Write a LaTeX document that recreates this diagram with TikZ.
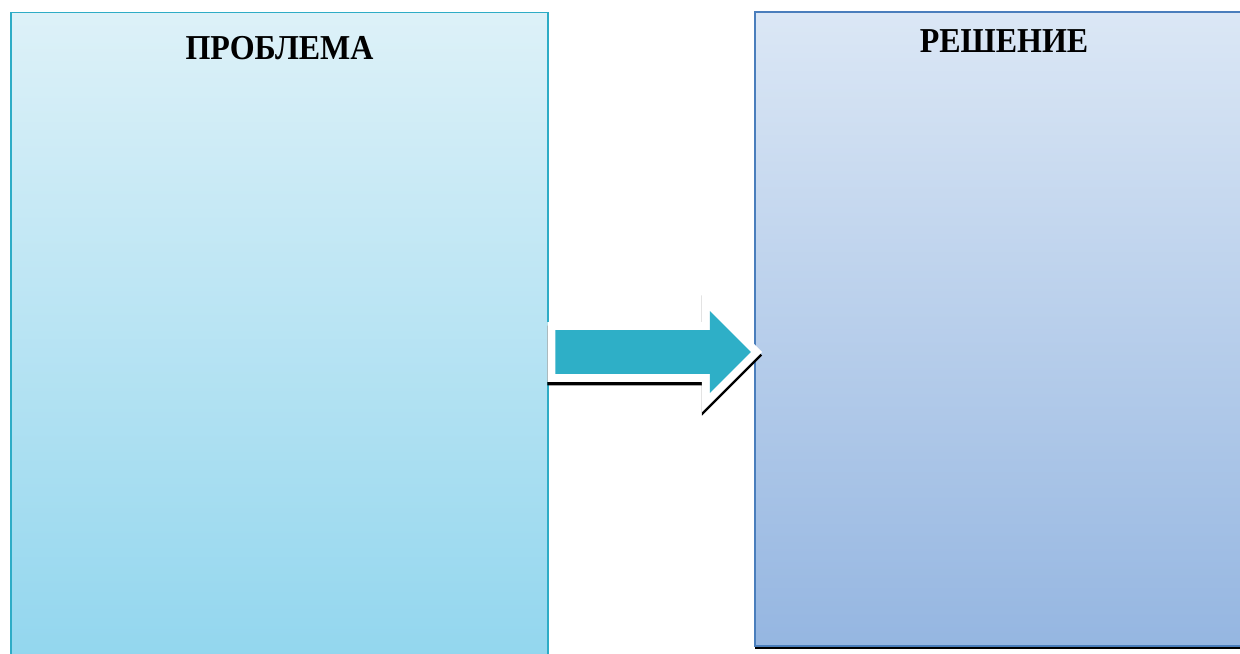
\documentclass[tikz,border=0pt]{standalone}
\usepackage{fontspec}
\setmainfont[FakeStretch=0.915]{Liberation Serif}
\usepackage{tikz}
\usetikzlibrary{shadows}
\usetikzlibrary{shapes,shapes.arrows}
\usetikzlibrary{calc,positioning}
\definecolor{probtop}{RGB}{221,241,248}
\definecolor{probbot}{RGB}{146,214,238}
\definecolor{probline}{RGB}{46,172,198}
\definecolor{soltop}{RGB}{219,231,245}
\definecolor{solbot}{RGB}{149,182,225}
\definecolor{solline}{RGB}{74,126,188}
\definecolor{arrowfill}{RGB}{46,175,199}
\tikzstyle{blackshadow}=[drop shadow={shadow xshift=0cm,shadow yshift=-0.07cm,fill=black,opacity=1}]
\tikzstyle{panel}=[rectangle,draw,line width=0.85pt,blackshadow]
\tikzstyle{heading}=[font=\bfseries\fontsize{19.9}{22}\selectfont,inner sep=0pt]
\tikzstyle{bigarrow}=[single arrow,single arrow tip angle=90,inner xsep=0pt,minimum width=0pt]

\begin{document}
\begin{tikzpicture}[x=0.02cm,y=-0.02cm]
    \useasboundingbox (0,0) rectangle (1240,653);
    \clip (0,0) rectangle (1240,653);

    % problem and solution panels
    \node[panel,draw=probline,top color=probtop,bottom color=probbot,minimum width=10.74cm,minimum height=13.05cm] (prob) at (279.5,338.75) {};
    \node[panel,draw=solline,top color=soltop,bottom color=solbot,minimum width=9.96cm,minimum height=12.68cm] (sol) at (1004,329) {};

    \node[heading,below=0.49cm of prob.north] (probtitle) {ПРОБЛЕМА};
    \node[heading,below=0.36cm of sol.north] (soltitle) {РЕШЕНИЕ};

    % arrow with white rim
    \node[bigarrow,fill=white,inner ysep=0.59cm,single arrow head extend=0.606cm,minimum height=4.296cm,anchor=tail,blackshadow] (arrowback) at (547,352) {};
    \node[bigarrow,fill=arrowfill,inner ysep=0.43cm,single arrow head extend=0.38cm,minimum height=3.91cm,anchor=tail] (arrow) at ($(arrowback.tail)+(8,0)$) {};
\end{tikzpicture}
\end{document}
